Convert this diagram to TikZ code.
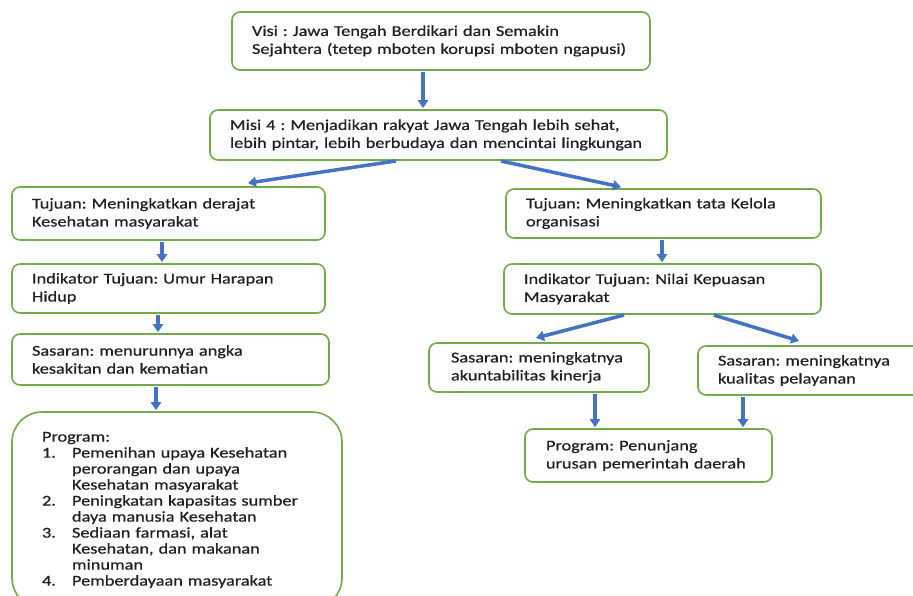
\documentclass[tikz,border=0pt]{standalone}
\usepackage{fontspec}
\setmainfont{Carlito}[FakeStretch=1.22, FakeBold=0.6]
\usepackage{tikz}
\usetikzlibrary{arrows.meta, positioning}
\usepackage{xcolor}
\definecolor{hijau}{HTML}{70AD47}
\definecolor{biru}{HTML}{4472C4}
\definecolor{tulisan}{HTML}{202020}
\frenchspacing

\begin{document}
\begin{tikzpicture}[x=1pt,y=-1pt,
        kotak/.style={draw=hijau, line width=1.6pt, rounded corners=8pt, align=left, text=tulisan,
            inner xsep=20pt, inner ysep=0pt, font=\fontsize{15}{18}\selectfont},
        panah/.style={-{Triangle[width=10pt,length=8pt]}, line width=3.5pt, draw=biru,
            shorten <=1pt, shorten >=1pt}]
        \useasboundingbox (0,0) rectangle (913,596);
        \clip (0,0) rectangle (913,596);

        \node[kotak, text width=378pt, minimum height=58pt] (visi) at (441,41)
            {Visi : Jawa Tengah Berdikari dan Semakin\\Sejahtera (tetep mboten korupsi mboten ngapusi)};
        \node[kotak, text width=417pt, minimum height=50pt] (misi) at (438.5,135)
            {Misi 4 : Menjadikan rakyat Jawa Tengah lebih sehat,\\lebih pintar, lebih berbudaya dan mencintai lingkungan};

        % kiri
        \node[kotak, text width=273pt, minimum height=53pt] (tujuanKiri) at (168.5,213.5)
            {Tujuan: Meningkatkan derajat\\Kesehatan masyarakat};
        \node[kotak, text width=273pt, minimum height=49pt] (indikatorKiri) at (168.5,288.5)
            {Indikator Tujuan: Umur Harapan\\Hidup};
        \node[kotak, text width=277pt, minimum height=51pt] (sasaranKiri) at (170.5,359.5)
            {Sasaran: menurunnya angka\\kesakitan dan kematian};
        \node[kotak, rounded corners=30pt, inner xsep=30pt, text width=270pt, minimum height=196pt,
            font=\fontsize{15}{16}\selectfont] (programKiri) at (177,510)
            {Program:\\
             \makebox[30pt][l]{1.}Pemenihan upaya Kesehatan\\
             \hspace*{30pt}perorangan dan upaya\\
             \hspace*{30pt}Kesehatan masyarakat\\
             \makebox[30pt][l]{2.}Peningkatan kapasitas sumber\\
             \hspace*{30pt}daya manusia Kesehatan\\
             \makebox[30pt][l]{3.}Sediaan farmasi, alat\\
             \hspace*{30pt}Kesehatan, dan makanan\\
             \hspace*{30pt}minuman\\
             \makebox[30pt][l]{4.}Pemberdayaan masyarakat\\[12pt]};

        % kanan
        \node[kotak, text width=275pt, minimum height=49pt] (tujuanKanan) at (663.5,213.5)
            {Tujuan: Meningkatkan tata Kelola\\organisasi};
        \node[kotak, text width=277pt, minimum height=50pt] (indikatorKanan) at (662.5,289)
            {Indikator Tujuan: Nilai Kepuasan\\Masyarakat};
        \node[kotak, inner xsep=22pt, text width=176pt, minimum height=49pt] (sasaranA) at (539,367.5)
            {Sasaran: meningkatnya\\akuntabilitas kinerja};
        \node[kotak, text width=197pt, minimum height=49pt] (sasaranB) at (816.5,370.5)
            {Sasaran: meningkatnya\\kualitas pelayanan};
        \node[kotak, inner xsep=21pt, text width=205pt, minimum height=53pt] (programKanan) at (648.5,455.5)
            {Program: Penunjang\\urusan pemerintah daerah};

        \draw[panah] ([xshift=-18pt]visi.south) -- ([xshift=-15.5pt]misi.north);
        \draw[panah] ([xshift=-41.5pt]misi.south) -- ([xshift=78.5pt,yshift=3pt]tujuanKiri.north);
        \draw[panah] ([xshift=61.5pt]misi.south) -- ([xshift=-41.5pt,yshift=1pt]tujuanKanan.north);

        \draw[panah] ([xshift=-6.5pt]tujuanKiri.south) -- ([xshift=-6.5pt]indikatorKiri.north);
        \draw[panah] ([xshift=-10.5pt]indikatorKiri.south) -- ([xshift=-12.5pt]sasaranKiri.north);
        \draw[panah] ([xshift=-14.5pt]sasaranKiri.south) -- ([xshift=-21pt]programKiri.north);

        \draw[panah] ([xshift=-1.5pt]tujuanKanan.south) -- ([xshift=-0.5pt]indikatorKanan.north);
        \draw[panah] ([xshift=-37.5pt]indikatorKanan.south) -- ([xshift=-4pt,yshift=4pt]sasaranA.north);
        \draw[panah] ([xshift=50.5pt]indikatorKanan.south) -- ([xshift=-16.5pt,yshift=4pt]sasaranB.north);
        \draw[panah] ([xshift=56pt]sasaranA.south) -- ([xshift=-53.5pt]programKanan.north);
        \draw[panah] ([xshift=-73.5pt]sasaranB.south) -- ([xshift=94.5pt]programKanan.north);
    \end{tikzpicture}
\end{document}
